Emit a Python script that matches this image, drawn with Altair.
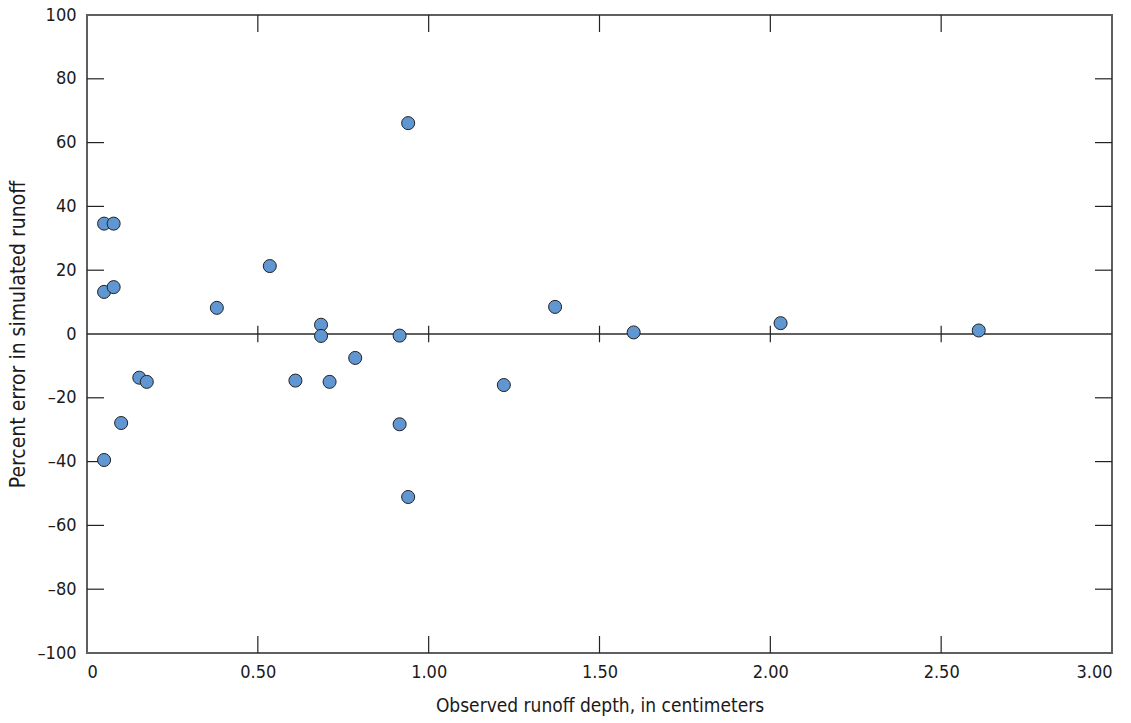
import altair as alt
import pandas as pd

# Observed runoff depth (cm) and percent error of simulated runoff
observed_cm = [0.05, 0.078, 0.05, 0.078, 0.05, 0.10, 0.153, 0.175, 0.38, 0.535,
               0.61, 0.685, 0.685, 0.71, 0.785, 0.915, 0.915, 0.94, 0.94, 1.22,
               1.37, 1.60, 2.03, 2.61]
percent_error = [34.6, 34.6, 13.2, 14.7, -39.5, -27.9, -13.7, -15.0, 8.2, 21.3,
                 -14.6, 2.9, -0.6, -15.0, -7.5, -0.5, -28.3, 66.1, -51.1, -16.0,
                 8.5, 0.5, 3.4, 1.1]

x_ticks = [0.5, 1.0, 1.5, 2.0, 2.5]
y_ticks = [-80, -60, -40, -20, 20, 40, 60, 80]

W, H = 1025, 638
FONT = "Liberation Sans Narrow, DejaVu Sans Condensed, Roboto, sans-serif"

pts = pd.DataFrame({"obs": observed_cm, "err": percent_error})
xt = pd.DataFrame({"obs": x_ticks})
yt = pd.DataFrame({"err": y_ticks})

x_scale = alt.Scale(domain=[0, 3], nice=False, zero=False)
y_scale = alt.Scale(domain=[-100, 100], nice=False, zero=False)

x_axis = alt.Axis(
    title="Observed runoff depth, in centimeters",
    values=[0, 0.5, 1.0, 1.5, 2.0, 2.5, 3.0],
    labelExpr="datum.value == 0 ? '0' : format(datum.value, '.2f')",
    ticks=False, domain=False, grid=False,
    labelPadding=10, titlePadding=15, titleFontSize=19,
)
y_axis = alt.Axis(
    title="Percent error in simulated runoff",
    values=list(range(-100, 101, 20)),
    labelExpr="datum.value < 0 ? '\u2013' + abs(datum.value) : '' + datum.value",
    ticks=False, domain=False, grid=False,
    labelPadding=11, titlePadding=9, titleFontSize=21,
)

points = alt.Chart(pts).mark_point(
    shape="circle", filled=True, size=170,
    fill="#6097D3", stroke="#222222", strokeWidth=1, opacity=1,
).encode(
    x=alt.X("obs:Q", scale=x_scale, axis=x_axis),
    y=alt.Y("err:Q", scale=y_scale, axis=y_axis),
)

zero_line = alt.Chart(pd.DataFrame({"err": [0]})).mark_rule(
    color="#2b2b2b", strokeWidth=1.5
).encode(y=alt.Y("err:Q", scale=y_scale))

# inward tick marks on all four sides and crossing the zero line
tick_style = dict(color="#222222", strokeWidth=1.2)
top_ticks = alt.Chart(xt).mark_rule(**tick_style).encode(
    x=alt.X("obs:Q", scale=x_scale), y=alt.value(0), y2=alt.value(17))
bottom_ticks = alt.Chart(xt).mark_rule(**tick_style).encode(
    x=alt.X("obs:Q", scale=x_scale), y=alt.value(H - 17), y2=alt.value(H))
zero_ticks = alt.Chart(xt).mark_rule(**tick_style).encode(
    x=alt.X("obs:Q", scale=x_scale),
    y=alt.Y("lo:Q", scale=y_scale), y2="hi:Q",
).transform_calculate(lo="-2.6", hi="2.6")
left_ticks = alt.Chart(yt).mark_rule(**tick_style).encode(
    y=alt.Y("err:Q", scale=y_scale), x=alt.value(0), x2=alt.value(17))
right_ticks = alt.Chart(yt).mark_rule(**tick_style).encode(
    y=alt.Y("err:Q", scale=y_scale), x=alt.value(W - 17), x2=alt.value(W))

chart = alt.layer(
    zero_line, top_ticks, bottom_ticks, zero_ticks, left_ticks, right_ticks, points
).properties(
    width=W, height=H,
    background="white",
    autosize=alt.AutoSizeParams(type="none"),
    padding={"left": 87, "top": 15, "right": 19, "bottom": 70},
).configure_view(
    stroke="#5f5f5f", strokeWidth=2,
).configure_axis(
    labelFont=FONT, titleFont=FONT, labelFontSize=18,
    labelColor="#1a1a1a", titleColor="#1a1a1a", titleFontWeight="normal",
)

chart.save("out.html", embed_options={"renderer": "svg", "actions": False})
